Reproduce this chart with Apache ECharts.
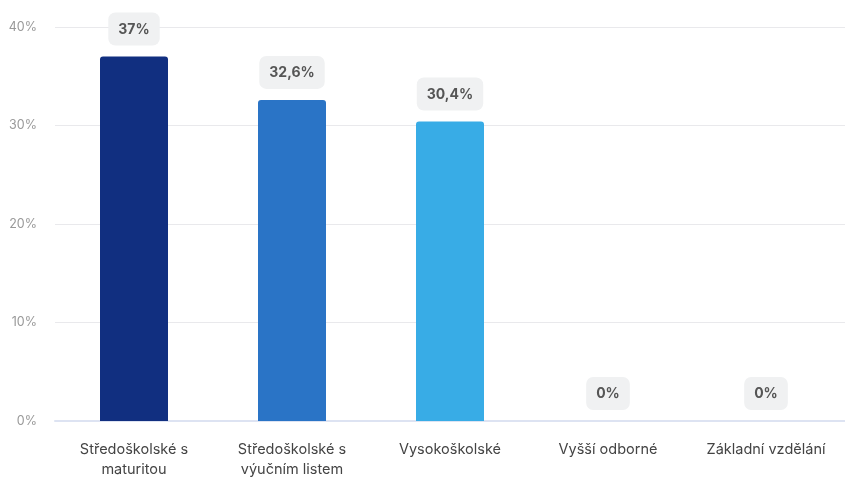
<!DOCTYPE html>
<html><head><meta charset="utf-8">
<script src="https://cdn.jsdelivr.net/npm/echarts@6/dist/echarts.min.js"></script>
<style>html,body{margin:0;padding:0;background:#fff;overflow:hidden}#c{width:845px;height:480px}</style>
</head><body><div id="c"></div>
<script>
const categories = ["Středoškolské s\nmaturitou", "Středoškolské s\nvýučním listem", "Vysokoškolské", "Vyšší odborné", "Základní vzdělání"];
const values = [37, 32.6, 30.4, 0, 0];
const barColors = ["#112f80", "#2a74c6", "#38ace6", "#38ace6", "#38ace6"];
const yTicks = [0, 10, 20, 30, 40];

const chart = echarts.init(document.getElementById('c'));
chart.setOption({
  animation: false,
  grid: { left: 55, right: -10, top: 27, bottom: 57 },
  xAxis: {
    type: 'category', data: categories,
    axisLine: { lineStyle: { color: '#dde3f2', width: 2 } },
    axisTick: { show: false },
    axisLabel: { color: '#444', fontFamily: 'Inter', fontSize: 14.5, lineHeight: 20, margin: 19, interval: 0 }
  },
  yAxis: {
    type: 'value', min: yTicks[0], max: yTicks[yTicks.length - 1], interval: 10,
    axisLabel: { color: '#999', fontFamily: 'Inter', fontSize: 12.5, margin: 18, formatter: v => v + '%' },
    splitLine: { lineStyle: { color: '#e9e9ec' } }
  },
  series: [{
    type: 'bar', barWidth: 68,
    data: values.map((v, i) => ({ value: v, itemStyle: { color: barColors[i] } })),
    itemStyle: { borderRadius: [3, 3, 0, 0] },
    label: {
      show: true, position: 'top', distance: 11,
      formatter: p => String(p.value).replace('.', ',') + '%',
      fontFamily: 'Inter', fontSize: 14, fontWeight: 'bold', color: '#555',
      backgroundColor: '#f0f1f2', borderRadius: 7, padding: [10, 10, 9, 10]
    }
  }]
});
</script></body></html>
